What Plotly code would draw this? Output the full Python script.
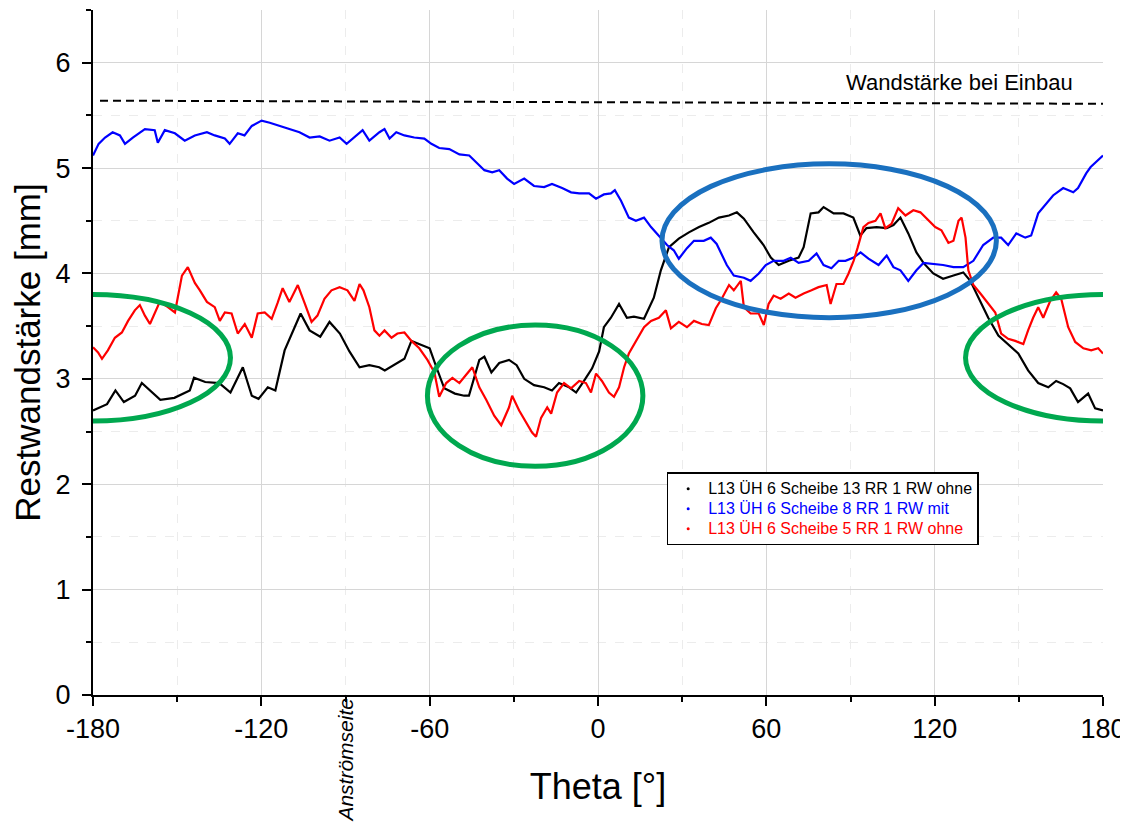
import plotly.graph_objects as go

# ---------------- data ----------------
black_theta = [-180, -175, -172, -169, -165, -162.6, -156, -151, -145.5, -144, -140, -135, -131, -126.6,
               -123.4, -121, -117.7, -115, -111.7, -106, -102.8, -99, -95.7, -92, -88.6, -85, -81.5, -78,
               -76, -72.6, -69, -66.5, -63.7, -60, -57.6, -54.8, -51, -47.7, -46, -42.3, -40.5, -38,
               -35.2, -31.7, -29, -26.3, -22.8, -19.2, -16.4, -13.9, -10.3, -7.8, -5, -2.1, 0.4, 2.1,
               4.6, 7.5, 10.3, 12.8, 16.4, 19.9, 22.4, 25.3, 28.8, 32.4, 36, 39.5, 43.1, 46.7, 49.5, 52,
               55.5, 59, 61.6, 64.4, 68, 71.5, 73.3, 75.8, 78.6, 80.4, 84, 87.5, 91, 93.5, 95.7, 99.3,
               102.9, 105.3, 107.8, 110.6, 113.5, 116, 119.5, 123, 126.7, 130.2, 132.7, 135.5, 139.1,
               142.7, 146.2, 149.8, 153.3, 156.9, 160.5, 163.3, 165.8, 168.3, 171.1, 174.7, 177.2, 180]
black_values = [2.70, 2.76, 2.89, 2.78, 2.84, 2.96, 2.80, 2.82, 2.89, 3.01, 2.97, 2.96, 2.87, 3.11,
                2.84, 2.81, 2.92, 2.89, 3.27, 3.62, 3.46, 3.40, 3.54, 3.43, 3.26, 3.11, 3.13, 3.11,
                3.08, 3.13, 3.19, 3.36, 3.33, 3.29, 3.11, 2.91, 2.86, 2.84, 2.84, 3.18, 3.21, 3.06,
                3.15, 3.18, 3.13, 3.00, 2.94, 2.92, 2.89, 2.96, 2.92, 2.87, 2.98, 3.10, 3.26, 3.49,
                3.58, 3.71, 3.58, 3.59, 3.57, 3.77, 4.03, 4.25, 4.33, 4.39, 4.44, 4.48, 4.53, 4.55, 4.58, 4.52,
                4.39, 4.27, 4.15, 4.08, 4.12, 4.15, 4.25, 4.57, 4.58, 4.63, 4.57, 4.57, 4.53, 4.36, 4.43, 4.44,
                4.43, 4.46, 4.53, 4.38, 4.20, 4.10, 4.00, 3.95, 3.98, 4.01, 3.93, 3.77, 3.58,
                3.41, 3.33, 3.24, 3.08, 2.96, 2.92, 2.98, 2.95, 2.91, 2.78, 2.86, 2.72, 2.70]

blue_theta = [-180, -178, -175.7, -173, -170.4, -168.6, -165.8, -161.5, -158, -156.9, -154.4, -150.8,
              -147.3, -143.7, -139.4, -136.6, -133, -131.3, -128.4, -126, -123.4, -119.9, -117, -113.5,
              -110, -106.4, -102.8, -99.2, -95.7, -92.1, -89.6, -86.8, -83.9, -81.5, -77.9, -76.1,
              -74.3, -71.9, -69, -65.5, -61.9, -59.4, -56.6, -53, -49.4, -45.9, -43, -40.5, -37.7,
              -35.2, -32.4, -29.9, -26.3, -22.8, -19.2, -16.4, -12.8, -9.6, -6.7, -3.2, -0.7, 2.1,
              4.6, 6, 8.2, 11, 13.5, 16.4, 18.9, 21.7, 24.6, 27, 28.8, 31.7, 34.2, 37.7, 40.2, 42.3,
              45.9, 48.4, 52, 54.4, 57.3, 59.8, 62.6, 66.2, 68.7, 71.5, 75.1, 77.9, 80.4, 83.2, 85.8,
              88.2, 91.1, 93.6, 96.4, 100, 102.9, 105.3, 107.8, 110.6, 113.5, 116, 119.5, 123, 126.7,
              130.2, 133.8, 137.3, 140.9, 143.7, 146.2, 149.1, 152.3, 154.4, 156.9, 159.7, 162.2,
              165.8, 169.4, 171.1, 174, 175.6, 180]
blue_values = [5.12, 5.23, 5.29, 5.34, 5.31, 5.23, 5.29, 5.37, 5.36, 5.24, 5.36, 5.33,
               5.26, 5.31, 5.34, 5.31, 5.28, 5.23, 5.33, 5.31, 5.40, 5.45, 5.43, 5.40,
               5.37, 5.34, 5.29, 5.30, 5.26, 5.29, 5.23, 5.29, 5.36, 5.26, 5.34, 5.37,
               5.28, 5.34, 5.31, 5.29, 5.28, 5.23, 5.19, 5.18, 5.13, 5.12, 5.04, 4.98, 4.96,
               4.98, 4.90, 4.85, 4.90, 4.83, 4.82, 4.85, 4.81, 4.77, 4.76, 4.76, 4.71, 4.75,
               4.76, 4.79, 4.69, 4.53, 4.50, 4.53, 4.44, 4.36, 4.27, 4.22, 4.14, 4.24, 4.31, 4.31, 4.34, 4.28,
               4.08, 3.98, 3.96, 3.93, 4.00, 4.08, 4.12, 4.12, 4.15, 4.10, 4.12, 4.19, 4.08, 4.05, 4.12,
               4.12, 4.15, 4.20, 4.14, 4.08, 4.17, 4.06, 4.03, 3.93, 4.03, 4.10, 4.09, 4.08, 4.06,
               4.06, 4.12, 4.27, 4.34, 4.34, 4.27, 4.38, 4.34, 4.36, 4.57, 4.66, 4.74,
               4.81, 4.77, 4.81, 4.95, 5.01, 5.12]

red_theta = [-180, -178.2, -176.8, -174.7, -172.2, -169.7, -167.5, -165.1, -163.3, -161.5, -159.7,
             -157.9, -156.2, -153.3, -150.8, -149.8, -148.3, -146.2, -143.7, -141.9, -139.4, -136.6,
             -134.8, -133, -130.6, -128.4, -125.9, -123.4, -121.3, -118.8, -116.3, -114.2, -112.4,
             -110, -107, -104.6, -102.1, -100, -97.5, -95, -92.1, -89.3, -86.8, -85, -83.6, -81.5,
             -79.7, -77.9, -76.1, -73.6, -71.5, -69, -66.5, -63.7, -60.8, -58.3, -56.6, -54.1, -51.9,
             -49.4, -46.6, -44.8, -42.3, -39.8, -37, -34.5, -31.7, -30.6, -28.1, -25.6, -23.5, -22.1,
             -20.3, -18.1, -16.7, -14.6, -12.1, -9.6, -6.7, -4.3, -2.5, -0.7, 1.4, 3.9, 5.7, 7.5, 9.3,
             11, 13.5, 16.4, 18.9, 21.7, 24.2, 26, 28.8, 31.7, 34.2, 37, 39.5, 42, 44.1, 46.7, 48.4,
             50.9, 52, 54.4, 57.3, 59.1, 60.8, 62.6, 65.1, 68, 70.4, 73.3, 76.1, 78.6, 81.5, 82.9, 85,
             87.5, 89.3, 91.1, 92.5, 94.6, 96.4, 98.9, 100.7, 102.4, 104.6, 107, 109.6, 112.4, 114.9,
             117.8, 120.2, 122.4, 124.9, 126.7, 128.5, 129.6, 131, 132, 133.8, 136.3, 139.1, 141.6,
             143.7, 146.2, 148.7, 151.6, 153.3, 155.1, 156.9, 158.7, 161.2, 163.3, 165.1, 167.6,
             170.1, 173, 175.8, 178.3, 180]
red_values = [3.30, 3.25, 3.19, 3.27, 3.39, 3.44, 3.55, 3.65, 3.70, 3.60, 3.52,
              3.63, 3.73, 3.68, 3.63, 3.77, 3.98, 4.06, 3.91, 3.84, 3.73, 3.68,
              3.55, 3.63, 3.62, 3.43, 3.52, 3.39, 3.62, 3.63, 3.57, 3.72, 3.86,
              3.73, 3.89, 3.72, 3.54, 3.60, 3.76, 3.84, 3.87, 3.84, 3.74, 3.90, 3.84, 3.68,
              3.46, 3.41, 3.46, 3.39, 3.43, 3.44, 3.36, 3.29, 3.18, 3.06, 2.83, 2.96, 3.01,
              2.96, 3.05, 3.11, 2.92, 2.80, 2.65, 2.56, 2.73, 2.84, 2.70, 2.59, 2.49, 2.45,
              2.63, 2.73, 2.67, 2.87, 2.96, 2.91, 2.98, 2.96, 2.87, 3.05, 2.98, 2.87, 2.83, 2.92, 3.11,
              3.24, 3.35, 3.49, 3.55, 3.58, 3.65, 3.48, 3.54, 3.49, 3.55, 3.52, 3.51, 3.67, 3.76, 3.89, 3.84,
              3.93, 3.68, 3.62, 3.62, 3.51, 3.71, 3.79, 3.76, 3.81, 3.77, 3.81, 3.84, 3.87, 3.89, 3.71, 3.90,
              3.90, 4.00, 4.12, 4.24, 4.44, 4.48, 4.50, 4.57, 4.43, 4.47, 4.62, 4.55, 4.60, 4.58,
              4.50, 4.44, 4.41, 4.29, 4.31, 4.50, 4.53, 4.34, 4.03, 3.89, 3.81, 3.72, 3.63,
              3.43, 3.38, 3.36, 3.33, 3.46, 3.58, 3.68, 3.58, 3.74, 3.82, 3.76, 3.49,
              3.35, 3.29, 3.27, 3.29, 3.24]

ref_theta = [-177.5, 180]
ref_values = [5.64, 5.61]

series_names = ["L13 ÜH 6 Scheibe 13 RR 1 RW ohne",
                "L13 ÜH 6 Scheibe 8 RR 1 RW mit",
                "L13 ÜH 6 Scheibe 5 RR 1 RW ohne"]
series_colors = ["#000000", "#0000ff", "#ff0000"]

x_ticks = [-180, -120, -60, 0, 60, 120, 180]
y_ticks = [0, 1, 2, 3, 4, 5, 6]

# ellipse regions (theta0, theta1, y0, y1)
green_regions = [(-229, -131, 2.60, 3.80), (-60.8, 16.0, 2.17, 3.51), (131, 229, 2.60, 3.80)]
blue_region = (22.8, 142.0, 3.58, 5.04)

FONT = "Liberation Sans, Arial, sans-serif"

fig = go.Figure()

for th, vals, col in [(black_theta, black_values, series_colors[0]),
                      (blue_theta, blue_values, series_colors[1]),
                      (red_theta, red_values, series_colors[2])]:
    fig.add_trace(go.Scatter(x=th, y=vals, mode="lines", line=dict(color=col, width=2.2),
                             showlegend=False, hoverinfo="x+y"))

# reference line
fig.add_trace(go.Scatter(x=ref_theta, y=ref_values, mode="lines",
                         line=dict(color="black", width=2, dash="8px,5px"), showlegend=False))

# legend entries (tiny dot symbols like the original)
for name, col in zip(series_names, series_colors):
    fig.add_trace(go.Scatter(x=[None], y=[None], mode="markers",
                             marker=dict(size=3, color=col),
                             name=f'<span style="color:{col};font-size:16px">{name}</span>'))

shapes = []
for (x0, x1, y0, y1) in green_regions:
    shapes.append(dict(type="circle", xref="x", yref="y", x0=x0, x1=x1, y0=y0, y1=y1,
                       line=dict(color="#00a84f", width=5), layer="above"))
bx0, bx1, by0, by1 = blue_region
shapes.append(dict(type="circle", xref="x", yref="y", x0=bx0, x1=bx1, y0=by0, y1=by1,
                   line=dict(color="#1a70bf", width=5), layer="above"))

# page body has an 8px margin: figure is sized so that page = 1128 x 826
fig.update_layout(
    width=1120, height=818,
    margin=dict(l=85, r=23, t=2, b=131),
    plot_bgcolor="white", paper_bgcolor="white",
    font=dict(family=FONT, color="black"),
    shapes=shapes,
    legend=dict(x=0.568, y=0.325, xanchor="left", yanchor="top",
                bgcolor="white", bordercolor="black", borderwidth=1.5,
                font=dict(size=13, family=FONT), tracegroupgap=0,
                itemwidth=30),
    annotations=[
        dict(text="Wandstärke bei Einbau", x=170, y=5.81, xref="x", yref="y",
             xanchor="right", yanchor="middle", showarrow=False,
             font=dict(size=22, family=FONT, color="black")),
        dict(text="<i>Anströmseite</i>", x=-90, y=-0.095, xref="x", yref="paper",
             xanchor="center", yanchor="middle", textangle=-90, showarrow=False,
             font=dict(size=21, family=FONT, color="black")),
    ],
)

fig.update_xaxes(
    range=[-180, 180], tickvals=x_ticks, ticktext=[str(v) for v in x_ticks],
    ticks="outside", ticklen=9, tickwidth=2, tickcolor="black",
    showline=True, linecolor="black", linewidth=2, mirror=False,
    showgrid=True, gridcolor="#d6d6d6", gridwidth=1, zeroline=False,
    minor=dict(dtick=30, tick0=0, ticks="outside", ticklen=5, tickwidth=2, tickcolor="black",
               showgrid=True, gridcolor="#ececec", griddash="dash"),
    tickfont=dict(size=27, family=FONT),
    title=dict(text="Theta [°]", font=dict(size=36, family=FONT), standoff=30),
)
fig.update_yaxes(
    range=[0, 6.5], tickvals=y_ticks, ticktext=[str(v) for v in y_ticks],
    ticks="outside", ticklen=9, tickwidth=2, tickcolor="black",
    showline=True, linecolor="black", linewidth=2, mirror=False,
    showgrid=True, gridcolor="#d6d6d6", gridwidth=1, zeroline=False,
    minor=dict(dtick=0.5, tick0=0, ticks="outside", ticklen=5, tickwidth=2, tickcolor="black",
               showgrid=True, gridcolor="#ececec", griddash="dash"),
    tickfont=dict(size=27, family=FONT), ticklabelstandoff=6,
    title=dict(text="Restwandstärke [mm]", font=dict(size=35, family=FONT), standoff=10),
)

fig.write_html("out.html")
